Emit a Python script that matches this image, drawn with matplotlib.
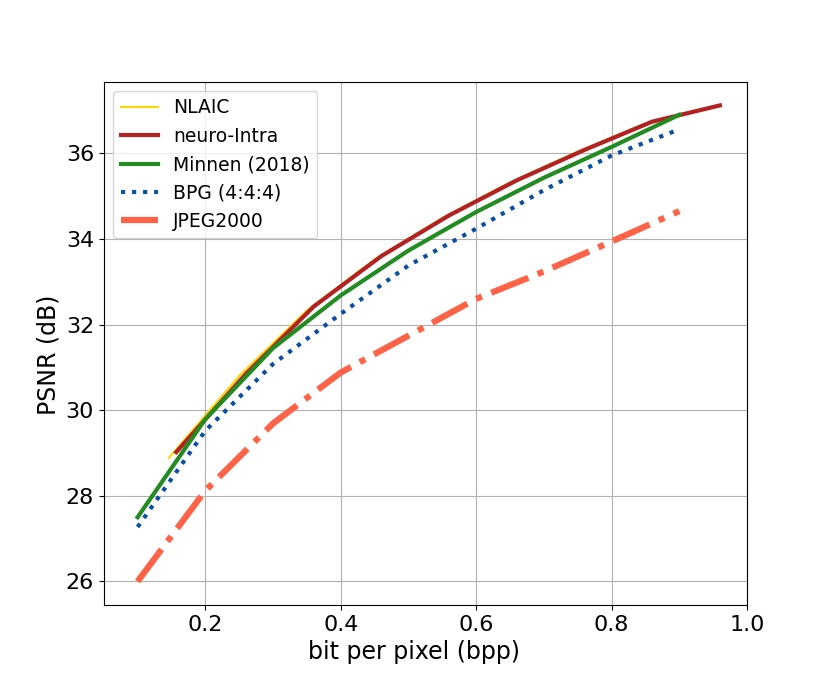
import numpy as np
import matplotlib
matplotlib.use('Agg')
import matplotlib.pyplot as plt

# rate-distortion points
nlaic_bpp = [0.146, 0.25, 0.35, 0.45, 0.55, 0.65, 0.75, 0.85]
nlaic_psnr = [28.88, 30.8, 32.33, 33.52, 34.49, 35.32, 36.04, 36.7]

intra_bpp = [0.157, 0.26, 0.36, 0.46, 0.56, 0.66, 0.76, 0.86, 0.96]
intra_psnr = [29.02, 30.85, 32.42, 33.6, 34.55, 35.37, 36.08, 36.74, 37.12]

minnen_bpp = [0.1, 0.2, 0.3, 0.4, 0.5, 0.6, 0.7, 0.8, 0.9]
minnen_psnr = [27.5, 29.79, 31.45, 32.68, 33.73, 34.63, 35.43, 36.15, 36.9]

bpg_bpp = [0.1, 0.2, 0.3, 0.4, 0.5, 0.6, 0.7, 0.8, 0.9]
bpg_psnr = [27.27, 29.52, 31.08, 32.25, 33.38, 34.24, 35.14, 35.95, 36.56]

jpeg_bpp = [0.1, 0.2, 0.3, 0.4, 0.5, 0.6, 0.7, 0.8, 0.9]
jpeg_psnr = [26.0, 28.12, 29.69, 30.88, 31.74, 32.6, 33.24, 33.94, 34.65]

fig = plt.figure(figsize=(8.3, 6.8), dpi=100)
ax = fig.add_subplot(1, 1, 1)

ax.plot(nlaic_bpp, nlaic_psnr, color='gold', lw=1.5, label='NLAIC')
ax.plot(intra_bpp, intra_psnr, color='firebrick', lw=3, label='neuro-Intra')
ax.plot(minnen_bpp, minnen_psnr, color='forestgreen', lw=3, label='Minnen (2018)')
ax.plot(bpg_bpp, bpg_psnr, ':', color='#0a4fa3', lw=3, label='BPG (4:4:4)')
ax.plot(jpeg_bpp, jpeg_psnr, '-.', color='tomato', lw=4.5, label='JPEG2000')

ax.set_xlim(0.05, 1.0)
ax.set_xticks([0.2, 0.4, 0.6, 0.8, 1.0])
ax.tick_params(labelsize=16)
ax.set_xlabel('bit per pixel (bpp)', fontsize=17)
ax.set_ylabel('PSNR (dB)', fontsize=17)
# labels sit a little off-centre in the original
ax.xaxis.label.set_x(0.482)
ax.yaxis.label.set_y(0.478)
ax.grid(True)
ax.legend(loc='upper left', fontsize=13.5)

fig.savefig('out.png', dpi=100)
